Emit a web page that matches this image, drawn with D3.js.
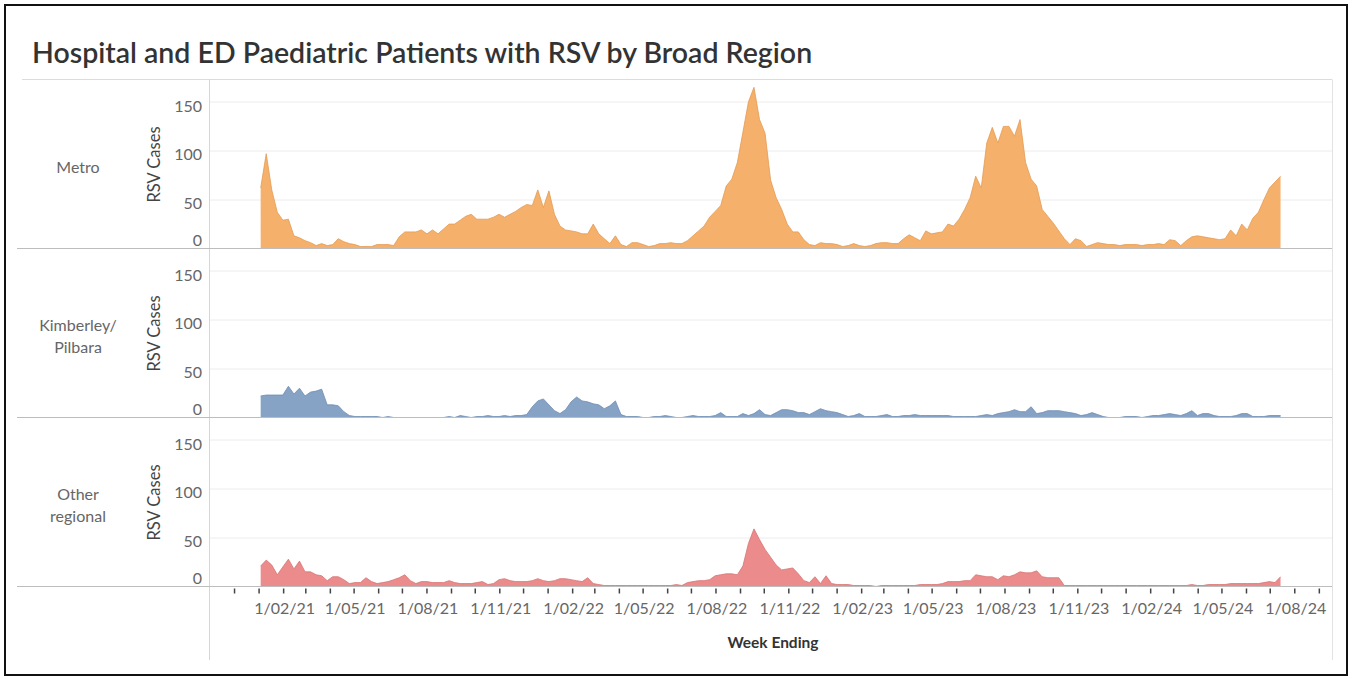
<!DOCTYPE html>
<html lang="en">
<head>
    <meta charset="UTF-8">
    <title>Hospital and ED Paediatric Patients with RSV by Broad Region</title>
    <script src="https://d3js.org/d3.v7.min.js"></script>
    <style>
        body {
            margin: 0;
            background: #fff;
            font-family: Lato, "Open Sans", sans-serif;
        }
        svg text {
            font-family: Lato, "Open Sans", sans-serif;
        }
    </style>
</head>
<body>
    <svg id="chart" width="1352" height="679"></svg>
    <script>
        // Weekly RSV cases, week ending Sunday, first week 3 Jan 2021
        const firstWeek = new Date(2021, 0, 3);

        const metro = [
            62, 97, 60, 37, 29, 30, 13, 11, 8, 6,
            3, 5, 3, 4, 10, 7, 5, 4, 2, 2,
            2, 4, 4, 4, 3, 12, 17, 17, 17, 19,
            15, 19, 15, 20, 25, 25, 29, 33, 35, 30,
            30, 30, 32, 35, 32, 35, 38, 42, 45, 44,
            60, 42, 59, 35, 23, 19, 18, 17, 15, 15,
            25, 15, 10, 5, 13, 4, 2, 6, 6, 4,
            2, 3, 5, 5, 6, 5, 5, 8, 13, 18,
            23, 32, 38, 44, 64, 71, 88, 119, 150, 165,
            132, 118, 70, 52, 40, 25, 17, 17, 9, 4,
            3, 6, 5, 5, 4, 2, 3, 5, 3, 2,
            3, 5, 6, 6, 5, 5, 10, 14, 11, 8,
            18, 15, 16, 17, 25, 23, 30, 40, 52, 74,
            62, 108, 124, 108, 125, 125, 115, 132, 88, 71,
            64, 40, 33, 26, 18, 10, 4, 10, 8, 2,
            4, 6, 5, 4, 4, 3, 4, 4, 4, 3,
            4, 4, 5, 4, 9, 8, 3, 8, 12, 13,
            12, 11, 10, 9, 10, 19, 13, 25, 19, 31,
            37, 50, 62, 68, 74
        ];

        const kimberley = [
            22, 23, 23, 23, 23, 32, 24, 30, 22, 26,
            27, 29, 13, 13, 12, 6, 2, 1, 1, 1,
            1, 1, 0, 1, 0, 0, 0, 0, 0, 0,
            0, 0, 0, 0, 1, 0, 2, 1, 0, 1,
            1, 2, 1, 1, 2, 1, 2, 2, 3, 11,
            17, 19, 13, 7, 4, 8, 16, 21, 17, 16,
            14, 13, 9, 12, 17, 3, 1, 1, 1, 0,
            0, 1, 1, 2, 1, 0, 0, 1, 2, 1,
            1, 1, 2, 5, 1, 1, 1, 4, 2, 4,
            8, 3, 2, 5, 8, 8, 7, 5, 5, 3,
            6, 9, 7, 6, 5, 3, 1, 2, 4, 1,
            1, 1, 2, 3, 1, 1, 2, 2, 3, 2,
            2, 2, 2, 2, 2, 1, 1, 1, 1, 1,
            2, 3, 2, 4, 5, 6, 8, 6, 6, 11,
            4, 5, 7, 7, 7, 6, 5, 4, 2, 3,
            5, 3, 1, 0, 0, 0, 1, 1, 1, 0,
            1, 2, 2, 3, 4, 3, 2, 4, 7, 2,
            4, 4, 2, 1, 1, 1, 2, 4, 4, 1,
            1, 1, 2, 2, 2
        ];

        const otherRegional = [
            21, 27, 22, 12, 20, 28, 18, 26, 15, 15,
            12, 11, 6, 10, 10, 7, 3, 4, 4, 9,
            5, 3, 4, 5, 7, 9, 12, 6, 3, 5,
            5, 4, 4, 4, 6, 4, 3, 3, 3, 4,
            5, 2, 3, 7, 8, 6, 5, 5, 5, 6,
            8, 6, 5, 6, 8, 8, 7, 6, 5, 9,
            3, 2, 1, 1, 1, 1, 1, 1, 1, 1,
            1, 1, 1, 1, 1, 2, 1, 4, 5, 6,
            6, 7, 11, 12, 13, 13, 12, 21, 44, 59,
            48, 38, 30, 22, 17, 18, 19, 13, 6, 4,
            10, 3, 11, 3, 2, 2, 2, 1, 1, 1,
            1, 0, 1, 1, 1, 1, 1, 1, 1, 2,
            2, 2, 2, 3, 5, 5, 5, 6, 6, 12,
            11, 10, 10, 7, 11, 10, 12, 15, 14, 14,
            16, 10, 9, 9, 9, 1, 1, 1, 1, 1,
            1, 1, 1, 1, 1, 1, 1, 1, 1, 1,
            1, 1, 1, 1, 1, 1, 1, 1, 2, 1,
            1, 2, 2, 2, 2, 3, 3, 3, 3, 3,
            3, 4, 5, 4, 10
        ];

        const regions = [
            { label: ["Metro"], values: metro, color: "#f5b06b", line: "#e39a52" },
            { label: ["Kimberley/", "Pilbara"], values: kimberley, color: "#86a2c4", line: "#6f8db3" },
            { label: ["Other", "regional"], values: otherRegional, color: "#ec8b8b", line: "#d87373" }
        ];

        const yTicks = [0, 50, 100, 150];
        const titleText = "Hospital and ED Paediatric Patients with RSV by Broad Region";

        const svg = d3.select("#chart");

        // layout
        const plotLeft = 210, plotRight = 1332;
        const panelTop = 79.5, panelH = 169;

        const x = d3.scaleTime()
            .domain([new Date(2020, 9, 31), new Date(2024, 8, 17)])
            .range([plotLeft, plotRight]);

        const y = d3.scaleLinear()
            .domain([0, 173])
            .range([panelH, 0]);

        const weeks = metro.map((_, i) => d3.timeDay.offset(firstWeek, i * 7));

        // outer frame
        svg.append("rect")
            .attr("x", 5).attr("y", 5)
            .attr("width", 1342).attr("height", 670)
            .attr("fill", "none")
            .attr("stroke", "#111")
            .attr("stroke-width", 2);

        // title
        const title = svg.append("text")
            .attr("x", 32).attr("y", 63)
            .attr("fill", "#333")
            .style("font-size", "26px")
            .style("font-weight", 600)
            .text(titleText);
        const tw = title.node().getComputedTextLength();
        title.style("font-size", (26 * 780 / tw).toFixed(2) + "px");

        // frame lines
        svg.append("line")
            .attr("x1", 22).attr("x2", plotRight)
            .attr("y1", panelTop).attr("y2", panelTop)
            .attr("stroke", "#dcdcdc");
        svg.append("line")
            .attr("x1", plotLeft - 0.5).attr("x2", plotLeft - 0.5)
            .attr("y1", panelTop).attr("y2", 660)
            .attr("stroke", "#d6d6d6");
        svg.append("line")
            .attr("x1", plotRight + 0.5).attr("x2", plotRight + 0.5)
            .attr("y1", panelTop).attr("y2", 660)
            .attr("stroke", "#e2e2e2");

        const area = d3.area()
            .x((d, i) => x(weeks[i]))
            .y0(y(0))
            .y1(d => y(d));

        const topLine = d3.line()
            .x((d, i) => x(weeks[i]))
            .y(d => y(d));

        regions.forEach((r, k) => {
            const g = svg.append("g")
                .attr("transform", `translate(0,${panelTop + k * panelH})`);

            // gridlines
            g.selectAll(".grid")
                .data(yTicks.filter(t => t > 0))
                .enter().append("line")
                .attr("x1", plotLeft).attr("x2", plotRight)
                .attr("y1", d => Math.round(y(d)) + 0.5)
                .attr("y2", d => Math.round(y(d)) + 0.5)
                .attr("stroke", "#ececec");

            // area
            g.append("path")
                .datum(r.values)
                .attr("d", area)
                .attr("fill", r.color);
            g.append("path")
                .datum(r.values)
                .attr("d", topLine)
                .attr("fill", "none")
                .attr("stroke", r.line)
                .attr("stroke-width", 0.8);

            // baseline / panel separator
            g.append("line")
                .attr("x1", 17).attr("x2", plotRight)
                .attr("y1", y(0)).attr("y2", y(0))
                .attr("stroke", "#bdbdbd");

            // y tick labels
            g.selectAll(".ylab")
                .data(yTicks)
                .enter().append("text")
                .attr("x", 202)
                .attr("y", d => y(d) + (d === 0 ? -8.5 : 4))
                .attr("dy", "0.35em")
                .attr("text-anchor", "end")
                .attr("fill", "#666")
                .style("font-size", "16px")
                .text(d => d);

            // y axis title
            g.append("text")
                .attr("transform", `translate(154,85) rotate(-90)`)
                .attr("dy", "0.35em")
                .attr("text-anchor", "middle")
                .attr("fill", "#444")
                .style("font-size", "16.5px")
                .text("RSV Cases");

            // row label
            const n = r.label.length;
            g.selectAll(".rowlab")
                .data(r.label)
                .enter().append("text")
                .attr("x", 78)
                .attr("y", (d, i) => 88 + (i - (n - 1) / 2) * 22)
                .attr("dy", "0.35em")
                .attr("text-anchor", "middle")
                .attr("fill", "#666")
                .style("font-size", "16px")
                .text(d => d);
        });

        // x axis
        const baseY = panelTop + 3 * panelH;
        const monthTicks = d3.timeMonth.range(new Date(2020, 11, 1), new Date(2024, 8, 2));
        const fmt = d3.timeFormat("%-d/%m/%y");

        svg.selectAll(".xtick")
            .data(monthTicks)
            .enter().append("line")
            .attr("x1", d => x(d)).attr("x2", d => x(d))
            .attr("y1", baseY + 2).attr("y2", baseY + 7)
            .attr("stroke", "#444")
            .attr("stroke-width", 1.5);

        svg.selectAll(".xlab")
            .data(monthTicks.filter(d => d.getMonth() % 3 === 1))
            .enter().append("text")
            .attr("x", d => x(d) + 1)
            .attr("y", 614)
            .attr("text-anchor", "middle")
            .attr("fill", "#666")
            .style("font-size", "16px")
            .text(fmt);

        svg.append("text")
            .attr("x", (plotLeft + plotRight) / 2 + 2)
            .attr("y", 648)
            .attr("text-anchor", "middle")
            .attr("fill", "#333")
            .style("font-size", "15.5px")
            .style("font-weight", 700)
            .text("Week Ending");
    </script>
</body>
</html>
